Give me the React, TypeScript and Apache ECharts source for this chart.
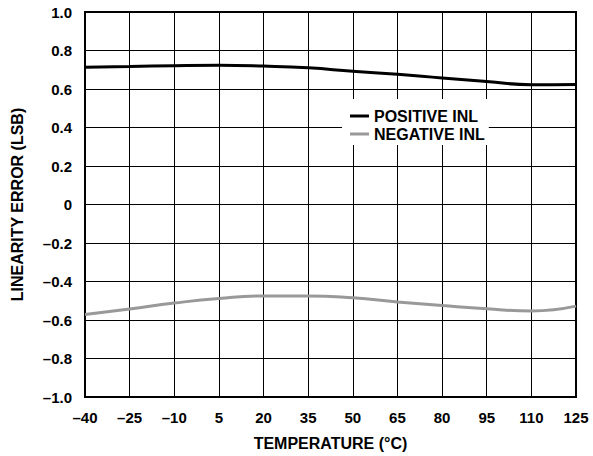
import React, { useEffect, useRef } from "react";
import * as echarts from "echarts";

const temperatures = ["-40", "-25", "-10", "5", "20", "35", "50", "65", "80", "95", "110", "125"];
const positiveINL = [0.713, 0.717, 0.721, 0.723, 0.719, 0.71, 0.692, 0.676, 0.657, 0.639, 0.622, 0.624];
const negativeINL = [-0.572, -0.543, -0.512, -0.488, -0.475, -0.475, -0.485, -0.506, -0.525, -0.542, -0.553, -0.528];
const yTicks = { min: -1, max: 1, interval: 0.2 };

const FONT = "'Liberation Sans', Arial, sans-serif";
const dash = (s: string) => s.replace("-", "\u2013");

export default function App() {
  const ref = useRef<HTMLDivElement>(null);
  useEffect(() => {
    if (!ref.current) return;
    const chart = echarts.init(ref.current, undefined, { renderer: "svg" });
    chart.setOption({
      animation: false,
      backgroundColor: "#fff",
      textStyle: { fontFamily: FONT },
      grid: {
        left: 85,
        right: 17,
        top: 12,
        bottom: 58,
        containLabel: false,
        show: true,
        borderColor: "#000",
        borderWidth: 2,
      },
      legend: {
        orient: "vertical",
        left: 342,
        top: 99,
        padding: [9, 4, 3, 8],
        backgroundColor: "#fff",
        itemGap: 2,
        itemWidth: 19,
        itemHeight: 3,
        icon: "rect",
        textStyle: { fontFamily: FONT, fontWeight: "bold", fontSize: 16, color: "#000" },
        data: ["POSITIVE INL", "NEGATIVE INL"],
      },
      xAxis: {
        type: "category",
        data: temperatures,
        boundaryGap: false,
        name: "TEMPERATURE (°C)",
        nameLocation: "middle",
        nameGap: 38,
        nameTextStyle: { fontFamily: FONT, fontWeight: "bold", fontSize: 16, color: "#000" },
        axisLine: { onZero: false, lineStyle: { color: "#000", width: 2 } },
        axisTick: { show: false },
        axisLabel: {
          formatter: (v: string) => dash(v),
          fontFamily: FONT,
          fontWeight: "bold",
          fontSize: 15,
          color: "#000",
          margin: 13,
        },
        splitLine: { show: true, lineStyle: { color: "#000", width: 1 } },
      },
      yAxis: {
        type: "value",
        min: yTicks.min,
        max: yTicks.max,
        interval: yTicks.interval,
        name: "LINEARITY ERROR (LSB)",
        nameLocation: "middle",
        nameGap: 60,
        nameTextStyle: { fontFamily: FONT, fontWeight: "bold", fontSize: 16, color: "#000" },
        axisLine: { show: true, onZero: false, lineStyle: { color: "#000", width: 2 } },
        axisTick: { show: false },
        axisLabel: {
          formatter: (v: number) => {
            const r = Math.round(v * 10) / 10;
            if (r === 0) return "0";
            return dash(r.toFixed(1));
          },
          fontFamily: FONT,
          fontWeight: "bold",
          fontSize: 15,
          color: "#000",
          margin: 13,
        },
        splitLine: { show: true, lineStyle: { color: "#000", width: 1 } },
      },
      series: [
        {
          name: "POSITIVE INL",
          type: "line",
          data: positiveINL,
          smooth: true,
          showSymbol: false,
          symbol: "none",
          color: "#000",
          lineStyle: { color: "#000", width: 3 },
          z: 3,
        },
        {
          name: "NEGATIVE INL",
          type: "line",
          data: negativeINL,
          smooth: true,
          showSymbol: false,
          symbol: "none",
          color: "#999",
          lineStyle: { color: "#999", width: 3 },
          z: 3,
        },
      ],
    });
    return () => chart.dispose();
  }, []);
  return (
    <div
      ref={ref}
      style={{ position: "fixed", left: 0, top: 0, width: 593, height: 456 }}
    />
  );
}
